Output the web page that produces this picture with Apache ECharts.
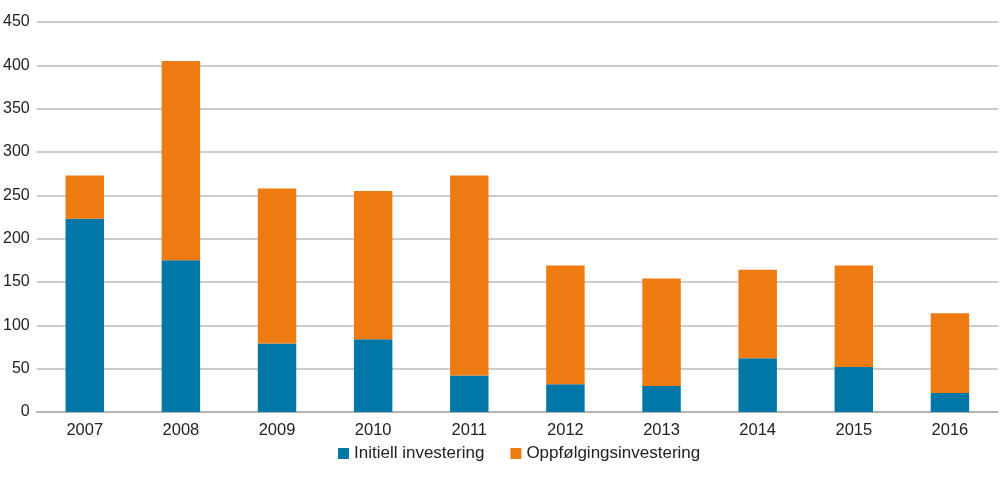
<!DOCTYPE html>
<html><head><meta charset="utf-8">
<script src="https://cdn.jsdelivr.net/npm/echarts@6/dist/echarts.min.js"></script>
<style>html,body{margin:0;padding:0;background:#fff}#c{width:1000px;height:478px}</style>
</head><body><div id="c"></div>
<script>
const categories = ['2007','2008','2009','2010','2011','2012','2013','2014','2015','2016'];
const initiell = [223,175,79,84,42,32,30,62,52,22];
const oppfolging = [50,230,179,171,231,137,124,102,117,92];
const seriesNames = ['Initiell investering','Oppfølgingsinvestering'];

const chart = echarts.init(document.getElementById('c'));
const font = 'Liberation Sans, Arial, sans-serif';
chart.setOption({
  animation:false,
  grid:{left:35,right:2,top:22,bottom:66,containLabel:false},
  legend:{bottom:11,left:333,itemWidth:11,itemHeight:11,itemGap:26,icon:'rect',
    textStyle:{fontFamily:font,fontSize:17,color:'#222'}, data:seriesNames},
  xAxis:{type:'category',data:categories,
    axisLine:{lineStyle:{color:'#aaa',width:1.5}},axisTick:{show:false},
    axisLabel:{fontFamily:font,fontSize:16.5,color:'#222',margin:10}},
  yAxis:{type:'value',min:0,max:450,interval:50,
    axisLine:{show:false},axisTick:{show:false},
    splitLine:{lineStyle:{color:'#bbb',width:1.5}},
    axisLabel:{fontFamily:font,fontSize:16,color:'#222',margin:7}},
  series:[
    {name:seriesNames[0],type:'bar',stack:'a',data:initiell,barWidth:'40%',itemStyle:{color:'#0077a6'}},
    {name:seriesNames[1],type:'bar',stack:'a',data:oppfolging,barWidth:'40%',itemStyle:{color:'#ee7a12'}}
  ]
});
</script></body></html>
